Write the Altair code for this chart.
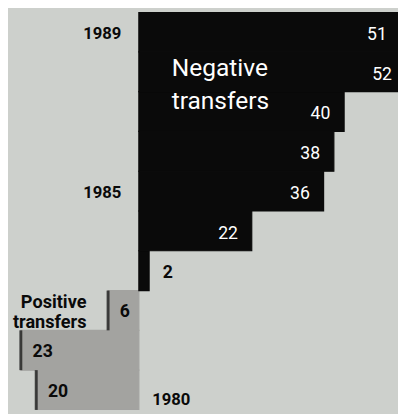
import altair as alt
import pandas as pd

# Net transfers (billions of dollars); positive = positive transfers, negative = negative transfers
years = [1980, 1981, 1982, 1983, 1984, 1985, 1986, 1987, 1988, 1989]
transfers = [20, 23, 6, -2, -22, -36, -38, -40, -52, -51]
left_year_labels = [1989, 1985]
right_year_labels = [1980]
neg_title = ["Negative", "transfers"]
pos_title = ["Positive", "transfers"]

FONT = "Roboto, Liberation Sans, sans-serif"
BG = "#cdd0cc"
GRAY = "#a3a3a0"
BLACK = "#0a0a0a"

df = pd.DataFrame({"year": years, "transfer": transfers})
year_domain = sorted(years, reverse=True)

yscale = alt.Scale(domain=year_domain, paddingInner=0, paddingOuter=0)
xscale = alt.Scale(domain=[-25.5, 50.5], nice=False, zero=False)

y = alt.Y("year:O", axis=None, scale=yscale)
x = alt.X("pos:Q", axis=None, scale=xscale)

base = alt.Chart(df).transform_calculate(
    pos="-datum.transfer", label="abs(datum.transfer)"
)

bars = base.mark_bar(clip=True, strokeWidth=1.2).encode(
    x=x,
    x2=alt.datum(0),
    y=y,
    color=alt.condition("datum.transfer > 0", alt.value(GRAY), alt.value(BLACK)),
    stroke=alt.condition("datum.transfer > 0", alt.value(GRAY), alt.value(BLACK)),
)

ticks = base.transform_filter("datum.transfer > 0").mark_tick(
    orient="vertical", thickness=3, size=40.6, color=BLACK
).encode(x=x, y=y)

neg_labels = base.transform_filter("datum.transfer < -5").mark_text(
    align="right", baseline="middle", dx=-14, dy=3, color="white",
    font=FONT, fontSize=18
).encode(x=x, y=y, text="label:Q")

small_labels = base.transform_filter(
    "datum.transfer < 0 && datum.transfer >= -5"
).mark_text(
    align="left", baseline="middle", dx=14, dy=2, color=BLACK,
    font=FONT, fontSize=18, fontWeight="bold"
).encode(x=x, y=y, text="label:Q")

pos_labels = base.transform_filter("datum.transfer > 0").mark_text(
    align="left", baseline="middle", dx=12, dy=2, color=BLACK,
    font=FONT, fontSize=18, fontWeight="bold"
).encode(x=x, y=y, text="label:Q")

left_years = alt.Chart(pd.DataFrame({"year": left_year_labels})).mark_text(
    align="right", baseline="middle", dy=2, color=BLACK,
    font=FONT, fontSize=17, fontWeight="bold"
).encode(x=alt.XDatum(datum=-3.4, type="quantitative"), y=y, text="year:N")

right_years = alt.Chart(pd.DataFrame({"year": right_year_labels})).mark_text(
    align="left", baseline="middle", dy=10, color=BLACK,
    font=FONT, fontSize=17, fontWeight="bold"
).encode(x=alt.XDatum(datum=2.6, type="quantitative"), y=y, text="year:N")

one = pd.DataFrame({"k": [0]})

neg_text = alt.Chart(one).mark_text(
    text=neg_title, align="left", baseline="alphabetic", dy=4, lineHeight=34,
    color="white", font=FONT, fontSize=25
).encode(
    x=alt.XDatum(datum=6.4, type="quantitative"),
    y=alt.YDatum(datum=1988, type="ordinal"),
)

pos_text = alt.Chart(one).mark_text(
    text=pos_title, align="right", baseline="alphabetic", dy=-3, lineHeight=21,
    color=BLACK, font=FONT, fontSize=18.5, fontWeight="bold"
).encode(
    x=alt.XDatum(datum=-10.2, type="quantitative"),
    y=alt.YDatum(datum=1982, type="ordinal"),
)

chart = alt.layer(
    bars, ticks, neg_labels, small_labels, pos_labels,
    left_years, right_years, neg_text, pos_text
).properties(
    width=398, height=406, padding=0, background=BG,
    autosize=alt.AutoSizeParams(type="none")
).configure_view(stroke=None, fill=BG)

chart.save("out.html", embed_options={"renderer": "svg", "actions": False})
